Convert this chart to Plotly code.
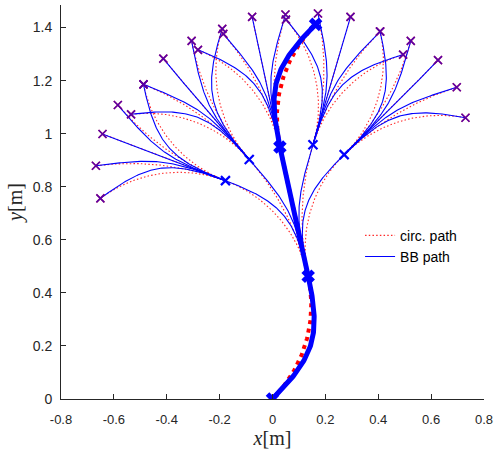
import numpy as np
import plotly.graph_objects as go

# ---- tree waypoints [m] ----
root_x, root_y = 0.0, 0.0
root_heading_deg = 45.0

# first expansion (node on the selected path)
lvl1_x = [0.135]
lvl1_y = [0.463]

# second expansion: children of the first node
lvl2_x = [-0.178, -0.088, 0.028, 0.153, 0.271]
lvl2_y = [0.823, 0.903, 0.950, 0.958, 0.921]
best_lvl2 = 2

# third expansion: leaves, each with the index of its parent in lvl2
leaf_parent = [0, 0, 0, 0, 0,
               1, 1, 1, 1, 1,
               2, 2, 2, 2, 2,
               3, 3, 3, 3, 3,
               4, 4, 4, 4, 4]
leaf_x = [-0.651, -0.668, -0.643, -0.585, -0.488,
          -0.535, -0.488, -0.413, -0.306, -0.190,
          -0.282, -0.186, -0.077, 0.049, 0.163,
          0.051, 0.172, 0.295, 0.407, 0.494,
          0.407, 0.523, 0.626, 0.697, 0.730]
leaf_y = [0.756, 0.879, 0.999, 1.108, 1.186,
          1.073, 1.186, 1.283, 1.350, 1.395,
          1.316, 1.376, 1.440, 1.449, 1.412,
          1.430, 1.453, 1.440, 1.385, 1.298,
          1.385, 1.350, 1.277, 1.175, 1.060]
best_leaf = 14

x_ticks = [-0.8, -0.6, -0.4, -0.2, 0, 0.2, 0.4, 0.6, 0.8]
x_tick_text = ["-0.8", "-0.6", "-0.4", "-0.2", "0", "0.2", "0.4", "0.6", "0.8"]
y_ticks = [0, 0.2, 0.4, 0.6, 0.8, 1.0, 1.2, 1.4]
y_tick_text = ["0", "0.2", "0.4", "0.6", "0.8", "1", "1.2", "1.4"]

BLUE = "rgb(0,0,255)"
RED = "rgb(255,0,0)"
AX = "#262626"
HANDLE = 0.47   # Bezier handle length relative to chord


def circ_segment(p0, th0, p1, n=90):
    """Circular arc leaving p0 with heading th0 and ending at p1."""
    dx, dy = p1[0] - p0[0], p1[1] - p0[1]
    L = np.hypot(dx, dy)
    a = np.arctan2(dy, dx)
    phi = 2.0 * np.angle(np.exp(1j * (a - th0)))
    s = np.linspace(0.0, 1.0, n)
    if abs(phi) < 1e-9:
        xs, ys = p0[0] + dx * s, p0[1] + dy * s
    else:
        R = L / (2.0 * np.sin(phi / 2.0))
        cx, cy = p0[0] - R * np.sin(th0), p0[1] + R * np.cos(th0)
        ang = th0 + phi * s
        xs, ys = cx + R * np.sin(ang), cy - R * np.cos(ang)
    return xs, ys, th0 + phi


def bb_segment(p0, th0, p1, th1, n=90):
    """Cubic Bernstein-Bezier curve with given end tangents."""
    p0 = np.asarray(p0, float)
    p1 = np.asarray(p1, float)
    L = np.hypot(*(p1 - p0))
    c0 = p0 + HANDLE * L * np.array([np.cos(th0), np.sin(th0)])
    c1 = p1 - HANDLE * L * np.array([np.cos(th1), np.sin(th1)])
    t = np.linspace(0.0, 1.0, n)[:, None]
    B = ((1 - t) ** 3) * p0 + 3 * ((1 - t) ** 2) * t * c0 + 3 * (1 - t) * t ** 2 * c1 + t ** 3 * p1
    return B[:, 0], B[:, 1]


class Polyline:
    def __init__(self):
        self.x, self.y = [], []

    def add(self, xs, ys):
        self.x += list(xs) + [None]
        self.y += list(ys) + [None]


circ_thin, bb_thin = Polyline(), Polyline()
circ_main, bb_main = Polyline(), Polyline()

root = (root_x, root_y)
th_root = np.deg2rad(root_heading_deg)
nodeA = (lvl1_x[0], lvl1_y[0])

cx, cy, thA = circ_segment(root, th_root, nodeA)
bx, by = bb_segment(root, th_root, nodeA, thA)
circ_main.add(cx, cy)
bb_main.add(bx, by)

th_lvl2 = []
for i, (px, py) in enumerate(zip(lvl2_x, lvl2_y)):
    cx, cy, th = circ_segment(nodeA, thA, (px, py))
    bx, by = bb_segment(nodeA, thA, (px, py), th)
    th_lvl2.append(th)
    if i == best_lvl2:
        circ_main.add(cx, cy)
        bb_main.add(bx, by)
    else:
        circ_thin.add(cx, cy)
        bb_thin.add(bx, by)

for j, (par, lx, ly) in enumerate(zip(leaf_parent, leaf_x, leaf_y)):
    p0 = (lvl2_x[par], lvl2_y[par])
    cx, cy, th = circ_segment(p0, th_lvl2[par], (lx, ly))
    bx, by = bb_segment(p0, th_lvl2[par], (lx, ly), th)
    if j == best_leaf:
        circ_main.add(cx, cy)
        bb_main.add(bx, by)
    else:
        circ_thin.add(cx, cy)
        bb_thin.add(bx, by)

fig = go.Figure()

fig.add_trace(go.Scatter(x=circ_thin.x, y=circ_thin.y, mode="lines", name="circ. path",
                         line=dict(color="rgb(255,40,40)", width=1.1, dash="1.5px,2.2px"),
                         hoverinfo="skip"))
fig.add_trace(go.Scatter(x=bb_thin.x, y=bb_thin.y, mode="lines", name="BB path",
                         line=dict(color=BLUE, width=1.1), hoverinfo="skip"))
fig.add_trace(go.Scatter(x=circ_main.x, y=circ_main.y, mode="lines", showlegend=False,
                         line=dict(color=RED, width=4, dash="4px,4.5px"), hoverinfo="skip"))
fig.add_trace(go.Scatter(x=bb_main.x, y=bb_main.y, mode="lines", showlegend=False,
                         line=dict(color=BLUE, width=5), hoverinfo="skip"))

# leaf markers (circ. and BB endpoints coincide)
fig.add_trace(go.Scatter(x=leaf_x, y=leaf_y, mode="markers", showlegend=False,
                         marker=dict(symbol="x-thin", size=8, line=dict(color=RED, width=1.6)),
                         hoverinfo="skip"))
fig.add_trace(go.Scatter(x=leaf_x, y=leaf_y, mode="markers", showlegend=False, opacity=0.65,
                         marker=dict(symbol="x-thin", size=8, line=dict(color=BLUE, width=1.6)),
                         hoverinfo="skip"))

# second-level nodes
fig.add_trace(go.Scatter(x=lvl2_x, y=lvl2_y, mode="markers", showlegend=False,
                         marker=dict(symbol="x-thin", size=9, line=dict(color=BLUE, width=2.2)),
                         hoverinfo="skip"))

# nodes on the selected path
main_x = [root_x, lvl1_x[0], lvl2_x[best_lvl2], leaf_x[best_leaf]]
main_y = [root_y, lvl1_y[0], lvl2_y[best_lvl2], leaf_y[best_leaf]]
fig.add_trace(go.Scatter(x=main_x, y=main_y, mode="markers", showlegend=False,
                         marker=dict(symbol="x-thin", size=10, line=dict(color=BLUE, width=5)),
                         hoverinfo="skip"))

tick_font = dict(family="Liberation Sans, Arial, sans-serif", size=14, color=AX)
xtick_font = dict(family="Liberation Sans, Arial, sans-serif", size=13, color=AX)
title_font = dict(family="Liberation Serif, Times New Roman, serif", size=20, color=AX)

fig.update_layout(
    width=495, height=454,
    margin=dict(l=61, r=11, t=5, b=55),
    paper_bgcolor="white", plot_bgcolor="white",
    showlegend=True,
    legend=dict(x=0.707, y=0.455, xanchor="left", yanchor="top",
                bgcolor="rgba(0,0,0,0)", borderwidth=0,
                font=dict(family="Liberation Sans, Arial, sans-serif", size=14, color="black"),
                itemwidth=30, tracegroupgap=0),
    xaxis=dict(range=[-0.8, 0.8], tickvals=x_ticks, ticktext=x_tick_text,
               showgrid=False, zeroline=False, showline=True, linecolor=AX, linewidth=1,
               ticks="inside", ticklen=5, tickcolor=AX, tickfont=xtick_font,
               ticklabelstandoff=8, ticklabeloverflow="allow", automargin=False,
               title=dict(text="<i>x</i>[m]", font=title_font, standoff=2)),
    yaxis=dict(range=[0, 1.485], tickvals=y_ticks, ticktext=y_tick_text,
               showgrid=False, zeroline=False, showline=True, linecolor=AX, linewidth=1,
               ticks="inside", ticklen=5, tickcolor=AX, tickfont=tick_font,
               ticklabelstandoff=5, ticklabeloverflow="allow", automargin=False,
               title=dict(text="<i>y</i>[m]", font=title_font, standoff=4)),
)

fig.write_html("out.html")
